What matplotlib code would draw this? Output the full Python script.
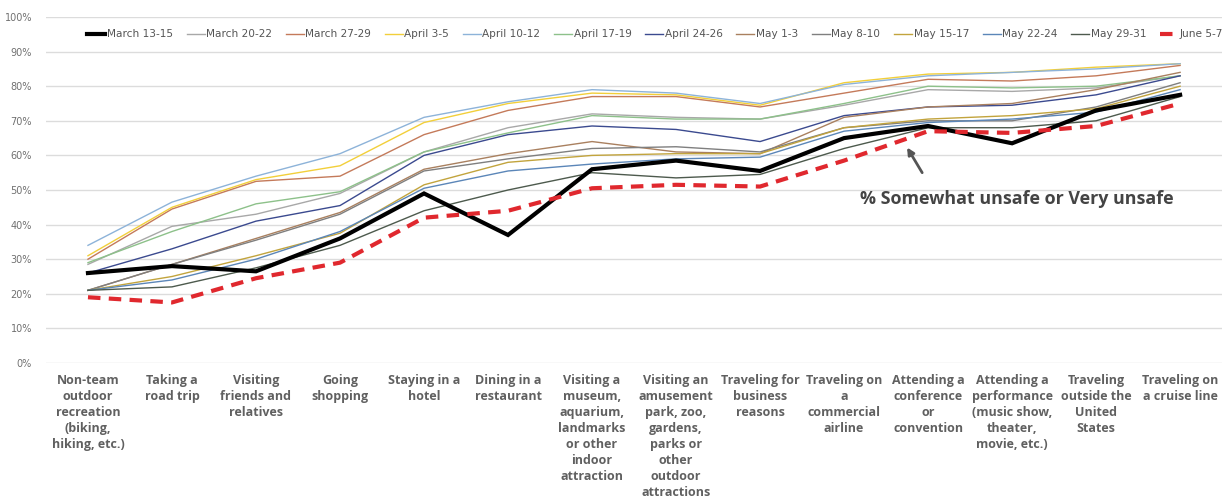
import matplotlib.pyplot as plt

activities = [
    "Non-team\noutdoor\nrecreation\n(biking,\nhiking, etc.)",
    "Taking a\nroad trip",
    "Visiting\nfriends and\nrelatives",
    "Going\nshopping",
    "Staying in a\nhotel",
    "Dining in a\nrestaurant",
    "Visiting a\nmuseum,\naquarium,\nlandmarks\nor other\nindoor\nattraction",
    "Visiting an\namusement\npark, zoo,\ngardens,\nparks or\nother\noutdoor\nattractions",
    "Traveling for\nbusiness\nreasons",
    "Traveling on\na\ncommercial\nairline",
    "Attending a\nconference\nor\nconvention",
    "Attending a\nperformance\n(music show,\ntheater,\nmovie, etc.)",
    "Traveling\noutside the\nUnited\nStates",
    "Traveling on\na cruise line",
]

# % somewhat unsafe or very unsafe, one list per survey wave
mar_13_15 = [26, 28, 26.5, 36, 49, 37, 56, 58.5, 55.5, 65, 68.5, 63.5, 73, 77.5]
mar_20_22 = [28.5, 39.5, 43, 49, 61, 68, 72, 71, 70.5, 74.5, 79, 78.5, 79.5, 83]
mar_27_29 = [30, 44.5, 52.5, 54, 66, 73, 77, 77, 74, 78, 82, 81.5, 83, 86]
apr_3_5 = [31, 45, 53, 57, 69.5, 75, 78, 77.5, 74.5, 81, 83.5, 84, 85.5, 86.5]
apr_10_12 = [34, 46.5, 54, 60.5, 71, 75.5, 79, 78, 75, 80.5, 83, 84, 85, 86.5]
apr_17_19 = [29, 38, 46, 49.5, 61, 66.5, 71.5, 70.5, 70.5, 75, 80, 79.5, 80, 83]
apr_24_26 = [26, 33, 41, 45.5, 60, 66, 68.5, 67.5, 64, 71.5, 74, 74.5, 77.5, 83]
may_1_3 = [21, 28.5, 36, 43.5, 56, 60.5, 64, 61, 60.5, 71, 74, 75, 79, 84]
may_8_10 = [21, 28.5, 35.5, 43, 55.5, 59, 62, 62.5, 61, 68, 70, 70, 74, 81]
may_15_17 = [21, 25, 31, 37.5, 51.5, 58, 60, 60.5, 60.5, 68, 70.5, 71.5, 73.5, 80]
may_22_24 = [21, 24, 30, 38, 50.5, 55.5, 57.5, 59, 59.5, 67, 69.5, 70.5, 72.5, 79]
may_29_31 = [21, 22, 27.5, 34, 44, 50, 55, 53.5, 54.5, 62, 68, 68, 70, 77]
jun_5_7 = [19, 17.5, 24.5, 29, 42, 44, 50.5, 51.5, 51, 58.5, 67, 66.5, 68.5, 75]

thin_series = [
    ("March 20-22", mar_20_22, "#a8a8a8"),
    ("March 27-29", mar_27_29, "#c47a5a"),
    ("April 3-5", apr_3_5, "#f2cf3a"),
    ("April 10-12", apr_10_12, "#8db3d9"),
    ("April 17-19", apr_17_19, "#8dc18a"),
    ("April 24-26", apr_24_26, "#3b4a8f"),
    ("May 1-3", may_1_3, "#a9805f"),
    ("May 8-10", may_8_10, "#7f7f7f"),
    ("May 15-17", may_15_17, "#c2a43d"),
    ("May 22-24", may_22_24, "#5b86b8"),
    ("May 29-31", may_29_31, "#4d5a4d"),
]

fig = plt.figure(figsize=(12.29, 5.0), dpi=100)
ax = fig.add_axes([0.0374, 0.274, 0.957, 0.692])

x = range(len(activities))
handles = {}
handles["March 13-15"], = ax.plot(x, mar_13_15, color="black", lw=3.0,
                                  solid_joinstyle="miter", zorder=5)
for name, vals, col in thin_series:
    handles[name], = ax.plot(x, vals, color=col, lw=1.0, zorder=3)
handles["June 5-7"], = ax.plot(x, jun_5_7, color="#e0282e", lw=3.0,
                               dashes=(3, 2), zorder=6)

order = ["March 13-15"] + [s[0] for s in thin_series] + ["June 5-7"]
ax.legend([handles[k] for k in order], order, ncol=14, frameon=False,
          loc="center", bbox_to_anchor=(0.518, 0.95), fontsize=7.6,
          handlelength=1.7, handletextpad=0.15, columnspacing=1.3,
          labelcolor="#555555")

ax.set_xlim(-0.5, len(activities) - 0.5)
ax.set_ylim(0, 100)
ax.set_yticks(range(0, 101, 10))
ax.set_yticklabels([f"{v}%" for v in range(0, 101, 10)])
ax.set_xticks(list(x))
ax.set_xticklabels(activities, fontsize=9, fontweight="bold",
                   color="#606060", linespacing=1.3, family="Open Sans",
                   va="top")
ax.tick_params(axis="y", labelsize=7, colors="#707070", length=0, pad=10)
ax.tick_params(axis="x", length=0, pad=8)
for s in ax.spines.values():
    s.set_visible(False)
ax.grid(axis="y", color="#dcdcdc", lw=1.0)
ax.set_axisbelow(True)

ax.text(11.06, 47.5, "% Somewhat unsafe or Very unsafe", ha="center",
        va="center", fontsize=12.9, fontweight="bold", color="#444444",
        family="Open Sans")
ax.annotate("", xy=(9.75, 62.3), xytext=(9.93, 55.0),
            arrowprops=dict(arrowstyle="-|>", color="#555555", lw=2,
                            shrinkA=0, shrinkB=0, mutation_scale=10))

fig.savefig("out.png", dpi=100)
